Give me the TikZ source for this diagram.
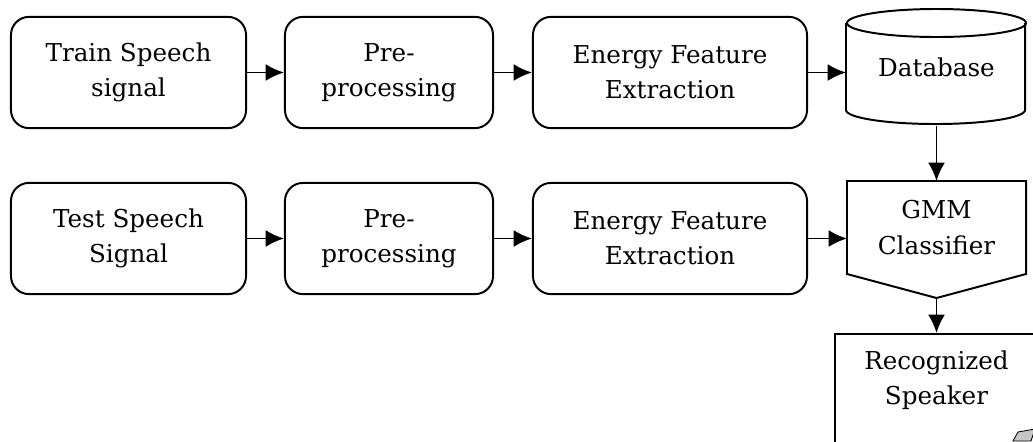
\documentclass[tikz,border=0pt]{standalone}
\usepackage{fontspec}
\setmainfont{DejaVu Serif}
\usetikzlibrary{arrows.meta}

\newcommand{\blockfont}{\fontsize{17.5}{25}\selectfont}

\begin{document}
\begin{tikzpicture}[x=0.025cm, y=-0.025cm, line width=1.4pt,
    block/.style={draw, rounded corners=0.45cm, align=center, minimum height=2.78cm, inner sep=0pt, font=\blockfont},
    plain/.style={align=center, inner sep=0pt, font=\blockfont},
    arr/.style={-{Latex[length=13pt,width=12pt]}}]
    \useasboundingbox (0,0) rectangle (1033,441);

    % training path
    \node[block, minimum width=5.875cm] (train) at (128.5,72.5) {Train Speech\\signal};
    \node[block, minimum width=5.2cm] (pretrain) at (389,72.5) {Pre-\\processing};
    \node[block, minimum width=6.85cm] (feattrain) at (670,72.5) {Energy Feature\\Extraction};
    \node[plain, minimum width=4.475cm, minimum height=2.875cm] (db) at (936.5,67.5) {Database};

    % database drawn as a cylinder
    \draw (db.north) ++(0,14) ellipse [x radius=2.2375cm, y radius=0.35cm];
    \draw (db.north west) ++(0,14) -- ++(0,87) arc [start angle=180, end angle=360, x radius=2.2375cm, y radius=0.35cm] -- ++(0,-87);

    % testing path
    \node[block, minimum width=5.875cm] (test) at (128.5,238.5) {Test Speech\\Signal};
    \node[block, minimum width=5.2cm] (pretest) at (389,238.5) {Pre-\\processing};
    \node[block, minimum width=6.85cm] (feattest) at (670,238.5) {Energy Feature\\Extraction};

    % classifier, box with a pointed bottom
    \node[plain, minimum width=4.425cm, minimum height=2.275cm] (gmm) at (936.5,227.5) {GMM\\Classifier};
    \coordinate (gmmtip) at ([yshift=-0.6cm]gmm.south);
    \draw (gmm.north west) -- (gmm.north east) -- (gmm.south east) -- (gmmtip) -- (gmm.south west) -- cycle;

    % output
    \node[draw, minimum width=5.05cm, minimum height=2.9cm, anchor=north] (spk) at (936.5,333) {};
    \node[plain] (spktext) at (936.5,380) {Recognized\\Speaker};
    \filldraw[fill=gray!45, line width=0.6pt] (1013,441) -- (1018,432) -- (1035,429) -- (1031,441) -- cycle;

    % connectors
    \draw[arr] (train) -- (pretrain);
    \draw[arr] (pretrain) -- (feattrain);
    \draw[arr] (feattrain.east) -- (feattrain.east -| db.west);
    \draw[arr] (test) -- (pretest);
    \draw[arr] (pretest) -- (feattest);
    \draw[arr] (feattest.east) -- (feattest.east -| gmm.west);
    \draw[arr] (db.south) -- (gmm.north);
    \draw[arr] (gmmtip) -- (spk.north);
\end{tikzpicture}
\end{document}
